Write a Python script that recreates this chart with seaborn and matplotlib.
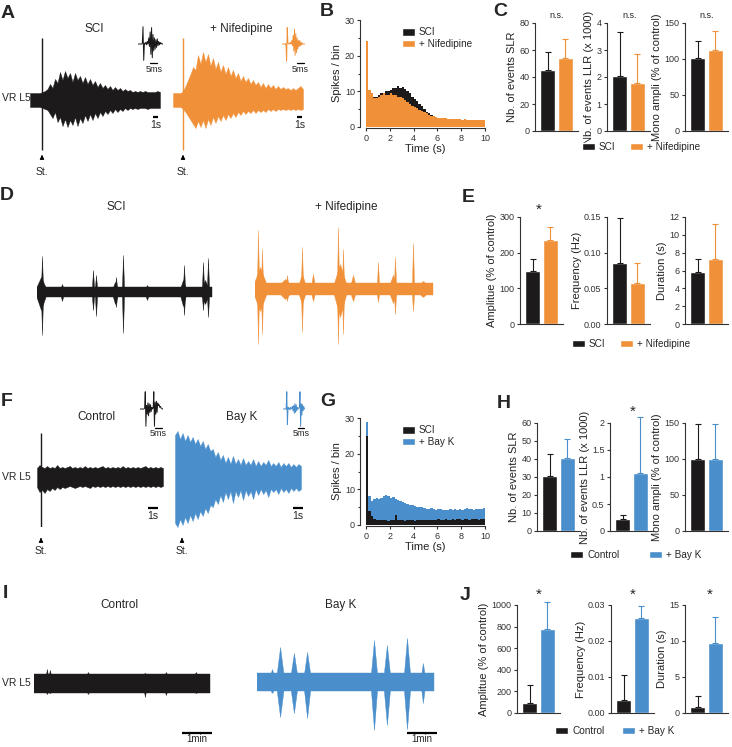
import numpy as np
import pandas as pd
import matplotlib
matplotlib.use("Agg")
import matplotlib.pyplot as plt
from matplotlib.patches import Patch
import seaborn as sns

W, H = 732, 747
BLACK = "#1c1a1b"
ORANGE = "#f0913a"
BLUE = "#4a8fcc"

# ---------------- data ----------------
# A: envelope of VR L5 responses (upper / lower half amplitude, a.u.), 26 s records
A_SPAN = 26.0
A_SCI_UP = [7, 7, 7, 7, 7, 8, 9, 11, 16, 12, 21, 17, 28, 20, 29, 22, 27, 18, 27, 20,
            24, 17, 23, 16, 21, 15, 19, 13, 17, 12, 15, 11, 14, 10, 13, 10, 12, 9, 11, 9,
            10, 8, 9, 8, 9, 8, 9, 8, 8, 8, 8, 9, 8]
A_SCI_LOW = [7, 7, 7, 7, 7, 8, 9, 10, 14, 18, 12, 22, 17, 26, 19, 27, 20, 25, 17, 26,
             18, 23, 15, 21, 14, 20, 13, 18, 12, 16, 11, 14, 10, 13, 9, 12, 9, 11, 8, 10,
             8, 9, 8, 9, 8, 8, 8, 9, 8, 8, 8, 8, 8]
A_NIF_UP = [7, 7, 7, 7, 9, 14, 20, 26, 33, 30, 45, 36, 48, 38, 46, 34, 42, 31, 38, 28,
            35, 26, 33, 24, 30, 22, 27, 19, 24, 18, 22, 16, 20, 15, 18, 13, 17, 12, 16, 12,
            15, 11, 14, 11, 13, 11, 12, 10, 12, 10, 12, 14, 11]
A_NIF_LOW = [7, 7, 7, 7, 9, 12, 16, 20, 24, 28, 21, 27, 20, 28, 19, 25, 17, 23, 16, 21,
             15, 20, 14, 18, 13, 17, 12, 15, 11, 14, 11, 13, 10, 13, 10, 12, 10, 12, 9, 11,
             9, 11, 9, 10, 9, 10, 9, 10, 9, 10, 9, 10, 9]
A_SCI_STIM = (2.4, 62, 50)   # time (s), up, down
A_NIF_STIM = (2.0, 62, 50)

# antidromic spike insets, 0.5 ms samples
A_SCI_WAVE = [0, 0, 0, 0, 0, 0, 0.02, 1.0, -0.95, 0.05, 0.0, 0.1, -0.05, 0.15, 0.0, 0.35, -0.15, 0.7,
              -0.6, 0.95, -0.8, 0.55, -0.4, 0.35, -0.3, 0.25, -0.2, 0.3, -0.1, 0.15, -0.05, 0.1, 0, 0.05, 0, 0]
A_NIF_WAVE = [0, 0, 0, 0, 0, 0, 0.02, -1.0, 0.95, 0.05, 0, 0.05, 0, 0.1, 0, 0.2, -0.1, 0.5,
              -0.4, 0.85, -0.65, 0.6, -0.5, 0.35, -0.3, 0.2, -0.15, 0.2, -0.1, 0.1, -0.05, 0.05, 0, 0, 0, 0]
F_CTRL_WAVE = [0, 0, 0, 0, 0, 0, 0, 0.05, 1.0, -1.0, 0.2, -0.3, 0.35, -0.4, 0.3, -0.2, 0.25, -0.15,
               0.1, 0, 0.05, 1.0, -1.0, 0.4, -0.3, 0.45, -0.2, 0.35, 0.2, 0.25, 0.1, 0.15, 0.05, 0.05, 0, 0]
F_BAYK_WAVE = [0, 0, 0, 0, 0, 0, 1.0, -0.9, 0.1, 0, 0.05, -0.05, 0.1, 0, 0.05, 0.15, -0.1, 0.2,
               -0.25, 0.3, -0.2, 0.25, -0.1, 0.1, 0, 0.05, 0.1, 1.0, -1.0, 0.3, -0.35, 0.25, -0.1, 0.15, 0, 0]
WAVE_STEP_MS = 0.5

# B / G: spikes per 0.2 s bin over 0-10 s
BIN_WIDTH = 0.2
B_SCI = [22, 10.5, 9.5, 8.5, 8.5, 9, 9.5, 9.5, 10, 10, 10.5, 10.8, 11, 11.5, 11, 11.3, 10.6, 10, 9.5, 8.5,
         7.8, 7.2, 6.5, 5.8, 5, 4.3, 3.8, 3.3, 3, 2.7, 2.5, 2.3, 2.1, 2, 1.9, 1.8, 1.8, 1.7, 1.7, 1.6,
         1.6, 1.5, 1.5, 1.5, 1.4, 1.4, 1.4, 1.3, 1.3, 1.3]
B_NIF = [24, 10.5, 9.5, 8, 8, 8.5, 9, 9.5, 9, 9, 9.5, 9, 9, 8.5, 8.3, 8, 7.5, 7, 6.5, 6,
         5.6, 5.2, 4.8, 4.4, 4.1, 3.8, 3.5, 3.2, 3, 2.8, 2.6, 2.5, 2.4, 2.4, 2.3, 2.3, 2.2, 2.3, 2.2, 2.2,
         2.1, 2.2, 2.1, 2.1, 2.0, 2.1, 2.0, 2.0, 2.1, 2.0]
G_SCI = [25, 4, 2.5, 1.8, 1.5, 1.4, 1.3, 1.4, 1.3, 1.2, 1.3, 1.4, 2.8, 1.3, 1.4, 1.3, 1.2, 1.3, 1.4, 1.3,
         1.2, 1.3, 1.4, 1.5, 1.3, 1.4, 1.5, 1.4, 1.3, 1.5, 1.6, 1.5, 1.4, 1.6, 1.5, 1.4, 1.6, 1.5, 1.7, 1.6,
         1.5, 1.6, 1.7, 1.5, 1.6, 1.7, 1.6, 1.5, 1.6, 1.7]
G_BAYK = [29, 8, 6.8, 7.2, 7.5, 7.2, 7.6, 8.2, 8.4, 8, 7.6, 7.8, 7.4, 7, 6.8, 6.4, 6.2, 6, 5.7, 5.5,
          5.3, 5.1, 5.0, 5.1, 4.8, 4.6, 4.5, 4.7, 4.4, 4.3, 4.4, 4.5, 4.2, 4.1, 4.3, 4.5, 4.3, 4.4, 4.2, 4.5,
          4.3, 4.5, 4.7, 4.4, 4.6, 4.3, 4.6, 4.4, 4.5, 4.7]

# C / E / H / J: mean and SEM
NIF_GROUPS = ["SCI", "+ Nifedipine"]
BAYK_GROUPS = ["Control", "+ Bay K"]
C_SLR_MEAN, C_SLR_SEM = [45, 54], [13.5, 14]
C_LLR_MEAN, C_LLR_SEM = [2.04, 1.78], [1.63, 1.07]
C_MONO_MEAN, C_MONO_SEM = [102, 112], [23, 27]
E_AMP_MEAN, E_AMP_SEM = [148, 235], [34, 37]
E_FREQ_MEAN, E_FREQ_SEM = [0.085, 0.057], [0.064, 0.028]
E_DUR_MEAN, E_DUR_SEM = [5.8, 7.3], [1.5, 3.9]
H_SLR_MEAN, H_SLR_SEM = [30.6, 40.5], [12.4, 10.5]
H_LLR_MEAN, H_LLR_SEM = [0.22, 1.08], [0.08, 1.03]
H_MONO_MEAN, H_MONO_SEM = [100, 100], [49, 49]
J_AMP_MEAN, J_AMP_SEM = [93, 778], [167, 250]
J_FREQ_MEAN, J_FREQ_SEM = [0.0036, 0.0264], [0.007, 0.0033]
J_DUR_MEAN, J_DUR_SEM = [0.85, 9.7], [1.55, 3.6]

# D: spontaneous activity, baseline half width and bursts (time, up, down, width)
D_SPAN_SCI, D_SPAN_NIF = 175, 178
D_SCI_BASE, D_NIF_BASE = 5, 6
D_SCI_BURSTS = [(4, 15, 18, 9), (5, 36, 43, 2), (25, 8, 9, 2), (56, 22, 18, 2), (59, 17, 24, 2),
                (78, 10, 12, 4), (79, 15, 15, 2), (86, 37, 41, 2), (110, 7, 8, 2), (146, 12, 14, 5),
                (147, 27, 23, 2), (166, 30, 18, 2), (168, 12, 12, 6), (171, 34, 25, 2)]
D_NIF_BURSTS = [(5, 22, 22, 12), (3, 59, 55, 2), (7, 40, 45, 2), (30, 10, 10, 8), (32, 14, 12, 2),
                (47, 15, 15, 6), (47, 42, 43, 2), (58, 15, 12, 3), (85, 25, 28, 12), (83, 62, 55, 2),
                (88, 40, 45, 2), (98, 14, 12, 4), (123, 27, 13, 2), (138, 14, 14, 6), (140, 32, 25, 2),
                (158, 46, 22, 2), (168, 8, 8, 5)]

# F: evoked responses, 12.6 s records
F_SPAN = 12.6
F_CTRL_UP = [9, 12, 10, 9, 11, 9, 10, 9, 12, 9, 10, 9, 10, 11, 9, 10, 9, 10, 9, 11,
             9, 10, 9, 10, 9, 10, 11, 9, 10, 9, 10, 9, 10, 9, 11, 9, 10, 9, 10, 9,
             10, 9, 10, 11, 9, 10, 9, 10, 9, 10, 9]
F_CTRL_LOW = [10, 15, 13, 16, 12, 14, 11, 13, 10, 12, 10, 11, 10, 9, 10, 11, 10, 9, 10, 9,
              10, 11, 9, 10, 9, 10, 9, 10, 9, 10, 9, 10, 9, 10, 9, 10, 9, 10, 9, 10,
              9, 10, 9, 10, 9, 10, 9, 10, 9, 10, 9]
F_BAYK_UP = [42, 46, 38, 44, 36, 42, 35, 40, 33, 38, 31, 36, 28, 33, 26, 28, 20, 25, 17, 22,
             14, 20, 13, 21, 13, 18, 12, 19, 12, 16, 12, 18, 11, 16, 11, 15, 12, 17, 11, 14,
             11, 15, 10, 14, 11, 14, 10, 13, 10, 13, 11]
F_BAYK_LOW = [46, 50, 42, 48, 40, 46, 38, 44, 36, 42, 34, 39, 31, 36, 28, 30, 22, 27, 18, 25,
              15, 22, 14, 26, 14, 20, 13, 23, 13, 19, 14, 22, 12, 18, 12, 17, 13, 20, 12, 15,
              12, 17, 11, 15, 12, 16, 11, 14, 11, 14, 12]
F_CTRL_STIM = (0.4, 44, 50)
F_BAYK_STIM_T = 0.7

# I: spontaneous activity (minutes)
I_SPAN_CTRL, I_SPAN_BAYK = 5.87, 5.9
I_CTRL_BASE, I_BAYK_BASE = 9.5, 9
I_CTRL_BURSTS = [(0.43, 14, 11, 0.05), (0.53, 13, 10, 0.05), (1.8, 11, 11, 0.05),
                 (3.7, 10, 14, 0.05), (4.4, 11, 12, 0.05), (5.4, 11, 10, 0.05)]
I_BAYK_BURSTS = [(0.5, 13, 11, 0.08), (0.77, 35, 35, 0.22), (1.23, 29, 31, 0.2), (1.67, 30, 36, 0.2),
                 (3.9, 42, 48, 0.2), (4.33, 37, 43, 0.2), (5.0, 44, 47, 0.2), (5.53, 19, 21, 0.1)]

# ---------------- style ----------------
sns.set_style("ticks")
plt.rcParams["font.family"] = ["Liberation Sans", "DejaVu Sans"]
plt.rcParams.update({
    "axes.linewidth": 0.8, "axes.edgecolor": "#333333", "axes.labelcolor": "#222222",
    "xtick.major.width": 0.8, "ytick.major.width": 0.8, "xtick.major.size": 2.5, "ytick.major.size": 2.5,
    "xtick.labelsize": 6.5, "ytick.labelsize": 6.5, "xtick.color": "#333333", "ytick.color": "#333333",
    "axes.labelsize": 8, "xtick.major.pad": 1.5, "ytick.major.pad": 1.5,
})

fig = plt.figure(figsize=(W / 100, H / 100), dpi=100)


def box(x0, y0, x1, y1):
    return fig.add_axes([x0 / W, 1 - y1 / H, (x1 - x0) / W, (y1 - y0) / H])


def label(x, y, s, **kw):
    kw.setdefault("ha", "center")
    kw.setdefault("va", "center")
    fig.text(x / W, 1 - y / H, s, **kw)


def trace_axes(x0, x1, yc, half, span):
    ax = box(x0, yc - half, x1, yc + half)
    ax.set_xlim(0, span)
    ax.set_ylim(-half, half)
    ax.axis("off")
    return ax


def envelope(ax, span, up, low, color):
    t = np.linspace(0, span, len(up))
    ax.fill_between(t, up, -np.asarray(low), color=color, lw=0.3)


def baseline_with_bursts(ax, span, base, bursts, color):
    ax.fill_between([0, span], [base, base], [-base, -base], color=color, lw=0.3)
    for t, up, down, w in bursts:
        ax.fill_between([t - w / 2, t, t + w / 2], [base, up, base], [-base, -down, -base],
                        color=color, lw=0.3)


def scale_bar(ax, t0, length, y, gap, text, size=7.5):
    ax.plot([t0, t0 + length], [y, y], color="black", lw=1.6, clip_on=False, solid_capstyle="butt")
    ax.text(t0 + length / 2, y - gap, text, ha="center", va="top", fontsize=size)


def stim_arrow(ax, t, head, tail, text_y):
    ax.annotate("", xy=(t, head), xytext=(t, tail), annotation_clip=False,
                arrowprops=dict(arrowstyle="-|>", color="black", lw=0.8, mutation_scale=6))
    ax.text(t, text_y, "St.", ha="center", va="top", fontsize=7.5)


def inset(x0, y0, x1, y1, wave, color, bar_t0, text_gap):
    ax = box(x0, y0, x1, y1)
    t = np.arange(len(wave)) * WAVE_STEP_MS
    sns.lineplot(x=t, y=wave, color=color, lw=0.7, estimator=None, sort=False, ax=ax)
    ax.set_xlim(0, t[-1])
    ax.set_ylim(-1.1, 1.1)
    ax.axis("off")
    ax.plot([bar_t0, bar_t0 + 5], [-1.08, -1.08], color="black", lw=0.9, clip_on=False)
    ax.text(bar_t0 + 2.5, -1.08 - text_gap, "5ms", ha="center", va="top", fontsize=6.5)


def hist_panel(x0, x1, ytop, ybot, series, colors):
    ax = box(x0, ytop, x1, ybot)
    for counts, c in zip(series, colors):
        centers = (np.arange(len(counts)) + 0.5) * BIN_WIDTH
        df = pd.DataFrame({"t": centers, "n": counts})
        sns.histplot(data=df, x="t", weights="n", binwidth=BIN_WIDTH, binrange=(0, 10),
                     element="step", fill=True, color=c, alpha=1, linewidth=0, ax=ax)
    ax.set_xlim(0, 10)
    ax.set_ylim(0, 30)
    ax.set_xticks(range(0, 11, 2))
    ax.set_yticks([0, 10, 20, 30])
    ax.set_yticks([5, 15, 25], minor=True)
    ax.tick_params(which="minor", length=1.5, width=0.8)
    ax.set_xlabel("Time (s)", labelpad=1)
    ax.set_ylabel("Spikes / bin", labelpad=2)
    sns.despine(ax=ax)
    ax.spines["left"].set_position(("outward", 4))
    ax.spines["bottom"].set_position(("outward", 1))
    return ax


def hist_legend(ax, names, colors):
    handles = [Patch(facecolor=c) for c in colors]
    ax.legend(handles, names, loc="upper left", bbox_to_anchor=(0.3, 0.93), frameon=False,
              fontsize=7.2, handlelength=1.3, handleheight=0.75, labelspacing=0.15,
              handletextpad=0.4, borderpad=0, borderaxespad=0)


def bar_panel(x0, x1, ytop, ybot, groups, means, sems, colors, ticks, ticklabels, ylabel):
    ax = box(x0, ytop, x1, ybot)
    sns.barplot(x=groups, y=means, hue=groups, palette=colors, legend=False, errorbar=None,
                width=0.88, saturation=1, ax=ax)
    for i, (m, s, c) in enumerate(zip(means, sems, colors)):
        eb = ax.errorbar(i, m, yerr=[[0], [s]], fmt="none", ecolor=c, elinewidth=0.8,
                         capsize=2.5, capthick=0.8)
        for art in eb.get_children():
            art.set_clip_on(False)
    ax.set_xlim(-0.75, 1.75)
    ax.set_ylim(0, ticks[-1])
    ax.set_yticks(ticks)
    ax.set_yticklabels(ticklabels)
    ax.set_xticks([])
    ax.set_xlabel("")
    ax.set_ylabel(ylabel, labelpad=1.5)
    sns.despine(ax=ax)
    return ax


def bar_legend(cx, cy, names, colors, gap):
    handles = [Patch(facecolor=colors[0]), Patch(facecolor=colors[1])]
    fig.legend(handles, names, loc="center", bbox_to_anchor=(cx / W, 1 - cy / H), ncol=2,
               frameon=False, fontsize=7.2, handlelength=1.3, handleheight=0.6,
               handletextpad=0.4, columnspacing=gap, borderpad=0)


# ---------------- A ----------------
ax = trace_axes(30, 160, 100, 62, A_SPAN)
envelope(ax, A_SPAN, A_SCI_UP, A_SCI_LOW, BLACK)
ax.vlines(A_SCI_STIM[0], -A_SCI_STIM[2], A_SCI_STIM[1], color=BLACK, lw=1)
stim_arrow(ax, A_SCI_STIM[0], -52, -60, -67)
scale_bar(ax, 24.6, 1, -17, 3, "1s")

ax = trace_axes(173, 303, 100, 62, A_SPAN)
envelope(ax, A_SPAN, A_NIF_UP, A_NIF_LOW, ORANGE)
ax.vlines(A_NIF_STIM[0], -A_NIF_STIM[2], A_NIF_STIM[1], color=ORANGE, lw=1)
stim_arrow(ax, A_NIF_STIM[0], -52, -60, -67)
scale_bar(ax, 24.8, 1, -17, 3, "1s")

inset(138, 25, 163, 63, A_SCI_WAVE, BLACK, 8.5, 0.12)
inset(282, 25, 305, 63, A_NIF_WAVE, ORANGE, 11.5, 0.12)
label(94, 29, "SCI", fontsize=8.5)
label(241, 29, "+ Nifedipine", fontsize=8.5)
label(2, 98, "VR L5", fontsize=7.5, ha="left")

# ---------------- B ----------------
ax = hist_panel(366, 485, 20, 127, [B_SCI, B_NIF], [BLACK, ORANGE])
hist_legend(ax, NIF_GROUPS, [BLACK, ORANGE])

# ---------------- C ----------------
bar_panel(535, 578, 23, 131, NIF_GROUPS, C_SLR_MEAN, C_SLR_SEM, [BLACK, ORANGE],
          [0, 20, 40, 60, 80], ["0", "20", "40", "60", "80"], "Nb. of events SLR")
bar_panel(607, 650, 23, 131, NIF_GROUPS, C_LLR_MEAN, C_LLR_SEM, [BLACK, ORANGE],
          [0, 1, 2, 3, 4], ["0", "1", "2", "3", "4"], "Nb. of events LLR (x 1000)")
bar_panel(685, 728, 23, 131, NIF_GROUPS, C_MONO_MEAN, C_MONO_SEM, [BLACK, ORANGE],
          [0, 50, 100, 150], ["0", "50", "100", "150"], "Mono ampli (% of control)")
for x in (557, 630, 707):
    label(x, 16, "n.s.", fontsize=6.5)
bar_legend(641, 147, NIF_GROUPS, [BLACK, ORANGE], 1.5)

# ---------------- D ----------------
ax = trace_axes(37, 212, 292, 64, D_SPAN_SCI)
baseline_with_bursts(ax, D_SPAN_SCI, D_SCI_BASE, D_SCI_BURSTS, BLACK)
ax = trace_axes(255, 433, 289, 64, D_SPAN_NIF)
baseline_with_bursts(ax, D_SPAN_NIF, D_NIF_BASE, D_NIF_BURSTS, ORANGE)
label(116, 207, "SCI", fontsize=8.5)
label(346, 207, "+ Nifedipine", fontsize=8.5)

# ---------------- E ----------------
bar_panel(520, 563, 217, 324, NIF_GROUPS, E_AMP_MEAN, E_AMP_SEM, [BLACK, ORANGE],
          [0, 100, 200, 300], ["0", "100", "200", "300"], "Amplitue (% of control)")
bar_panel(607, 650, 217, 324, NIF_GROUPS, E_FREQ_MEAN, E_FREQ_SEM, [BLACK, ORANGE],
          [0, 0.05, 0.10, 0.15], ["0.00", "0.05", "0.10", "0.15"], "Frequency (Hz)")
bar_panel(685, 728, 217, 324, NIF_GROUPS, E_DUR_MEAN, E_DUR_SEM, [BLACK, ORANGE],
          [0, 2, 4, 6, 8, 10, 12], ["0", "2", "4", "6", "8", "10", "12"], "Duration (s)")
label(539, 210, "*", fontsize=11)
bar_legend(631, 344, NIF_GROUPS, [BLACK, ORANGE], 1.5)

# ---------------- F ----------------
ax = trace_axes(37, 163, 477, 50, F_SPAN)
envelope(ax, F_SPAN, F_CTRL_UP, F_CTRL_LOW, BLACK)
ax.vlines(F_CTRL_STIM[0], -F_CTRL_STIM[2], F_CTRL_STIM[1], color=BLACK, lw=1)
stim_arrow(ax, F_CTRL_STIM[0], -58, -65, -69)
scale_bar(ax, 11.1, 1, -31, 3, "1s")

ax = trace_axes(175, 301, 477, 50, F_SPAN)
envelope(ax, F_SPAN, F_BAYK_UP, F_BAYK_LOW, BLUE)
stim_arrow(ax, F_BAYK_STIM_T, -58, -65, -69)
scale_bar(ax, 11.8, 1, -31, 3, "1s")

inset(140, 390, 163, 428, F_CTRL_WAVE, BLACK, 11.5, 0.05)
inset(283, 390, 305, 428, F_BAYK_WAVE, BLUE, 12.0, 0.05)
label(96, 417, "Control", fontsize=8.5)
label(242, 417, "Bay K", fontsize=8.5)
label(2, 477, "VR L5", fontsize=7.5, ha="left")

# ---------------- G ----------------
ax = hist_panel(366, 485, 418, 525, [G_BAYK, G_SCI], [BLUE, BLACK])
hist_legend(ax, ["SCI", "+ Bay K"], [BLACK, BLUE])

# ---------------- H ----------------
bar_panel(537, 580, 423, 531, BAYK_GROUPS, H_SLR_MEAN, H_SLR_SEM, [BLACK, BLUE],
          [0, 10, 20, 30, 40, 50, 60], ["0", "10", "20", "30", "40", "50", "60"], "Nb. of events SLR")
bar_panel(610, 653, 423, 531, BAYK_GROUPS, H_LLR_MEAN, H_LLR_SEM, [BLACK, BLUE],
          [0, 0.5, 1, 1.5, 2], ["0", "0.5", "1", "1.5", "2"], "Nb. of events LLR (x 1000)")
bar_panel(685, 728, 423, 531, BAYK_GROUPS, H_MONO_MEAN, H_MONO_SEM, [BLACK, BLUE],
          [0, 50, 100, 150], ["0", "50", "100", "150"], "Mono ampli (% of control)")
label(633, 412, "*", fontsize=11)
bar_legend(636, 555, BAYK_GROUPS, [BLACK, BLUE], 3.0)

# ---------------- I ----------------
ax = trace_axes(34, 210, 683, 52, I_SPAN_CTRL)
baseline_with_bursts(ax, I_SPAN_CTRL, I_CTRL_BASE, I_CTRL_BURSTS, BLACK)
scale_bar(ax, 4.93, 1, -50, 1.5, "1min", size=7)
ax = trace_axes(257, 434, 682, 52, I_SPAN_BAYK)
baseline_with_bursts(ax, I_SPAN_BAYK, I_BAYK_BASE, I_BAYK_BURSTS, BLUE)
scale_bar(ax, 5.0, 1, -51, 1.5, "1min", size=7)
label(119, 605, "Control", fontsize=8.5)
label(341, 605, "Bay K", fontsize=8.5)
label(2, 683, "VR L5", fontsize=7.5, ha="left")

# ---------------- J ----------------
bar_panel(517, 560, 605, 713, BAYK_GROUPS, J_AMP_MEAN, J_AMP_SEM, [BLACK, BLUE],
          [0, 200, 400, 600, 800, 1000], ["0", "200", "400", "600", "800", "1000"],
          "Amplitue (% of control)")
bar_panel(611, 654, 605, 713, BAYK_GROUPS, J_FREQ_MEAN, J_FREQ_SEM, [BLACK, BLUE],
          [0, 0.01, 0.02, 0.03], ["0.00", "0.01", "0.02", "0.03"], "Frequency (Hz)")
bar_panel(685, 728, 605, 713, BAYK_GROUPS, J_DUR_MEAN, J_DUR_SEM, [BLACK, BLUE],
          [0, 5, 10, 15], ["0", "5", "10", "15"], "Duration (s)")
for x in (539, 633, 710):
    label(x, 595, "*", fontsize=11)
bar_legend(615, 731, BAYK_GROUPS, [BLACK, BLUE], 1.8)

# ---------------- panel letters ----------------
for s, x, y in [("A", 8, 13), ("B", 327, 12), ("C", 500, 12), ("D", 7, 195), ("E", 468, 197),
                ("F", 7, 402), ("G", 328, 402), ("H", 504, 403), ("I", 5, 593), ("J", 465, 595)]:
    label(x, y, s, fontsize=14, fontweight="bold")

fig.savefig("out.png", dpi=100, facecolor="white")
